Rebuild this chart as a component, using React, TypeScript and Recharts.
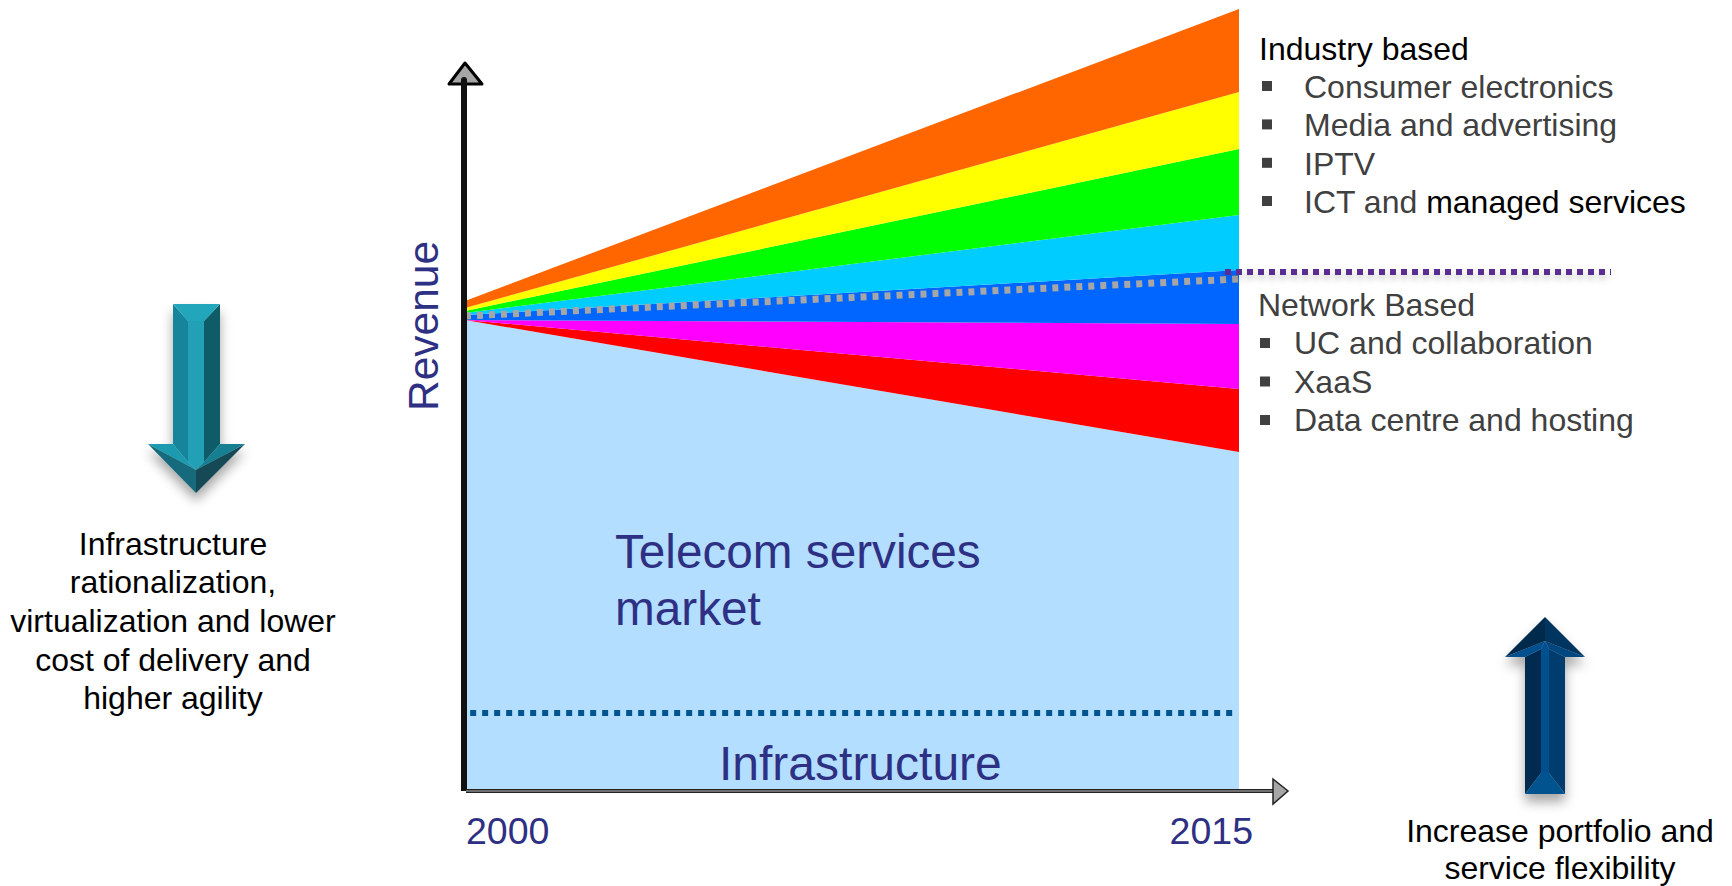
import React from 'react';
import { ComposedChart, Area, Line, XAxis, YAxis, ReferenceLine } from 'recharts';

const years = [2000, 2015];
const telecom = [470, 338];
const dataCentre = [0, 63];
const xaas = [0, 65];
const ucCollab = [5, 54];
const ictManaged = [2, 55];
const iptv = [2, 66];
const media = [3, 57];
const consumer = [7, 83];
const boundary = [474, 511];
const infrastructureLevel = 77;

const rows = years.map((year, i) => ({
  year,
  telecom: telecom[i],
  dataCentre: dataCentre[i],
  xaas: xaas[i],
  ucCollab: ucCollab[i],
  ictManaged: ictManaged[i],
  iptv: iptv[i],
  media: media[i],
  consumer: consumer[i],
  boundary: boundary[i],
}));

const bands: [string, string][] = [
  ['telecom', '#b3deff'],
  ['dataCentre', '#ff0000'],
  ['xaas', '#ff00ff'],
  ['ucCollab', '#0066ff'],
  ['ictManaged', '#00ccff'],
  ['iptv', '#00ff00'],
  ['media', '#ffff00'],
  ['consumer', '#ff6600'],
];

const NAVY = '#2e3083';
const GREY = '#404040';
const FONT = '"Liberation Sans", Arial, sans-serif';

const industryItems = ['Consumer electronics', 'Media and advertising', 'IPTV'];
const networkItems = ['UC and collaboration', 'XaaS', 'Data centre and hosting'];
const leftLines = ['Infrastructure', 'rationalization,', 'virtualization and lower', 'cost of delivery and', 'higher agility'];
const rightLines = ['Increase portfolio and', 'service flexibility'];

function YearTick(props: any) {
  const { x, y, payload } = props;
  const first = payload.value === years[0];
  return (
    <text x={first ? x + 1 : x + 14} y={y + 46} textAnchor={first ? 'start' : 'end'} fontSize={37.5} fontFamily={FONT} fill={NAVY}>
      {payload.value}
    </text>
  );
}

function Overlay() {
  const body = { fontSize: 32, fontFamily: FONT, fill: GREY } as const;
  return (
    <svg width={1732} height={886} style={{ position: 'absolute', left: 0, top: 0, pointerEvents: 'none' }}>
      <defs>
        <filter id="sh" x="-40%" y="-20%" width="180%" height="140%">
          <feDropShadow dx="0" dy="8" stdDeviation="6" floodColor="#000" floodOpacity="0.35" />
        </filter>
        <filter id="lsh" filterUnits="userSpaceOnUse" x={1200} y={255} width={430} height={40}>
          <feDropShadow dx="0" dy="4" stdDeviation="3" floodColor="#000" floodOpacity="0.22" />
        </filter>
      </defs>

      {/* axes */}
      <line x1={464} y1={791} x2={464} y2={82} stroke="#111" strokeWidth={6} />
      <polygon points="465,63 449,84 482,84" fill="#a6a6a6" stroke="#000" strokeWidth={3} strokeLinejoin="round" />
      <line x1={464} y1={80} x2={464} y2={92} stroke="#111" strokeWidth={6} strokeLinecap="round" />
      <line x1={466} y1={791} x2={1274} y2={791} stroke="#222" strokeWidth={4} />
      <line x1={466} y1={791} x2={1274} y2={791} stroke="#8a8a8a" strokeWidth={1.5} />
      <polygon points="1273,779 1288,791 1273,804" fill="#a6a6a6" stroke="#222" strokeWidth={1.5} />

      {/* divider */}
      <line x1={1225} y1={272} x2={1611} y2={272} stroke="#5a2d91" strokeWidth={6} strokeDasharray="6 5" filter="url(#lsh)" />

      {/* labels */}
      <text transform="translate(438,326) rotate(-90)" textAnchor="middle" fontSize={42.5} fontFamily={FONT} fill={NAVY}>Revenue</text>
      <text x={615} y={568} fontSize={47.7} fontFamily={FONT} fill={NAVY}>Telecom services</text>
      <text x={615} y={625} fontSize={47.7} fontFamily={FONT} fill={NAVY}>market</text>
      <text x={719} y={780} fontSize={48} fontFamily={FONT} fill={NAVY}>Infrastructure</text>

      {/* right lists */}
      <text x={1259} y={60} fontSize={32} fontFamily={FONT} fill="#000">Industry based</text>
      {industryItems.map((t, i) => (
        <g key={t}>
          <rect x={1262} y={81 + i * 38.4} width={10} height={10} fill={GREY} />
          <text x={1304} y={98 + i * 38.4} {...body}>{t}</text>
        </g>
      ))}
      <rect x={1262} y={196} width={10} height={10} fill={GREY} />
      <text x={1304} y={213} {...body}>ICT and <tspan fill="#000">managed services</tspan></text>

      <text x={1258} y={316} {...body}>Network Based</text>
      {networkItems.map((t, i) => (
        <g key={t}>
          <rect x={1260} y={338 + i * 38.5} width={10} height={10} fill={GREY} />
          <text x={1294} y={354 + i * 38.5} {...body}>{t}</text>
        </g>
      ))}

      {/* left block */}
      <g filter="url(#sh)">
        <polygon points="173,304 188,321 188,462 173,444" fill="#17859b" />
        <polygon points="220,304 204,321 204,462 220,444" fill="#0f5c68" />
        <polygon points="173,304 220,304 204,321 188,321" fill="#22a6bc" />
        <polygon points="188,321 204,321 204,462 196,470 188,462" fill="#21a0b6" />
        <polygon points="148,444 173,444 188,462 196,470" fill="#1e9bb0" />
        <polygon points="245,444 220,444 204,462 196,470" fill="#167f92" />
        <polygon points="148,444 196,470 196,493" fill="#136a7b" />
        <polygon points="245,444 196,470 196,493" fill="#124a57" />
      </g>
      {leftLines.map((t, i) => (
        <text key={t} x={173} y={554.5 + i * 38.7} textAnchor="middle" fontSize={32} fontFamily={FONT} fill="#000">{t}</text>
      ))}

      {/* right block */}
      <g filter="url(#sh)">
        <polygon points="1525,657 1541,649 1541,773 1525,794" fill="#002c50" />
        <polygon points="1565,657 1549,649 1549,773 1565,794" fill="#003c6e" />
        <polygon points="1541,649 1545,641 1549,649 1549,773 1541,773" fill="#004f8e" />
        <polygon points="1525,794 1565,794 1549,773 1541,773" fill="#00528f" />
        <polygon points="1505,657 1525,657 1541,649 1545,641" fill="#004f8e" />
        <polygon points="1585,657 1565,657 1549,649 1545,641" fill="#004680" />
        <polygon points="1505,657 1545,641 1545,617" fill="#002a4c" />
        <polygon points="1585,657 1545,641 1545,617" fill="#003560" />
      </g>
      {rightLines.map((t, i) => (
        <text key={t} x={1560} y={842 + i * 36.5} textAnchor="middle" fontSize={32} fontFamily={FONT} fill="#000">{t}</text>
      ))}
    </svg>
  );
}

export default function App() {
  return (
    <div style={{ position: 'absolute', left: 0, top: 0, width: 1732, height: 886, background: '#fff', overflow: 'hidden' }}>
      <ComposedChart width={1732} height={886} data={rows} margin={{ top: 0, right: 493, bottom: 0, left: 465 }}>
        <XAxis
          dataKey="year"
          type="number"
          domain={[years[0], years[1]]}
          ticks={years}
          height={96}
          axisLine={false}
          tickLine={false}
          tick={YearTick}
          interval={0}
        />
        <YAxis hide domain={[0, 790]} type="number" />
        {bands.map(([key, color]) => (
          <Area
            key={key}
            dataKey={key}
            type="linear"
            stackId="market"
            fill={color}
            fillOpacity={1}
            stroke="none"
            dot={false}
            activeDot={false}
            isAnimationActive={false}
          />
        ))}
        <Line
          dataKey="boundary"
          type="linear"
          stroke="#a6a6a6"
          strokeWidth={7}
          strokeDasharray="6 6"
          dot={false}
          activeDot={false}
          isAnimationActive={false}
        />
        <ReferenceLine
          segment={[
            { x: 2000.1, y: infrastructureLevel },
            { x: 2014.9, y: infrastructureLevel },
          ]}
          stroke="#00558f"
          strokeWidth={6}
          strokeDasharray="6 6"
        />
      </ComposedChart>
      <Overlay />
    </div>
  );
}
